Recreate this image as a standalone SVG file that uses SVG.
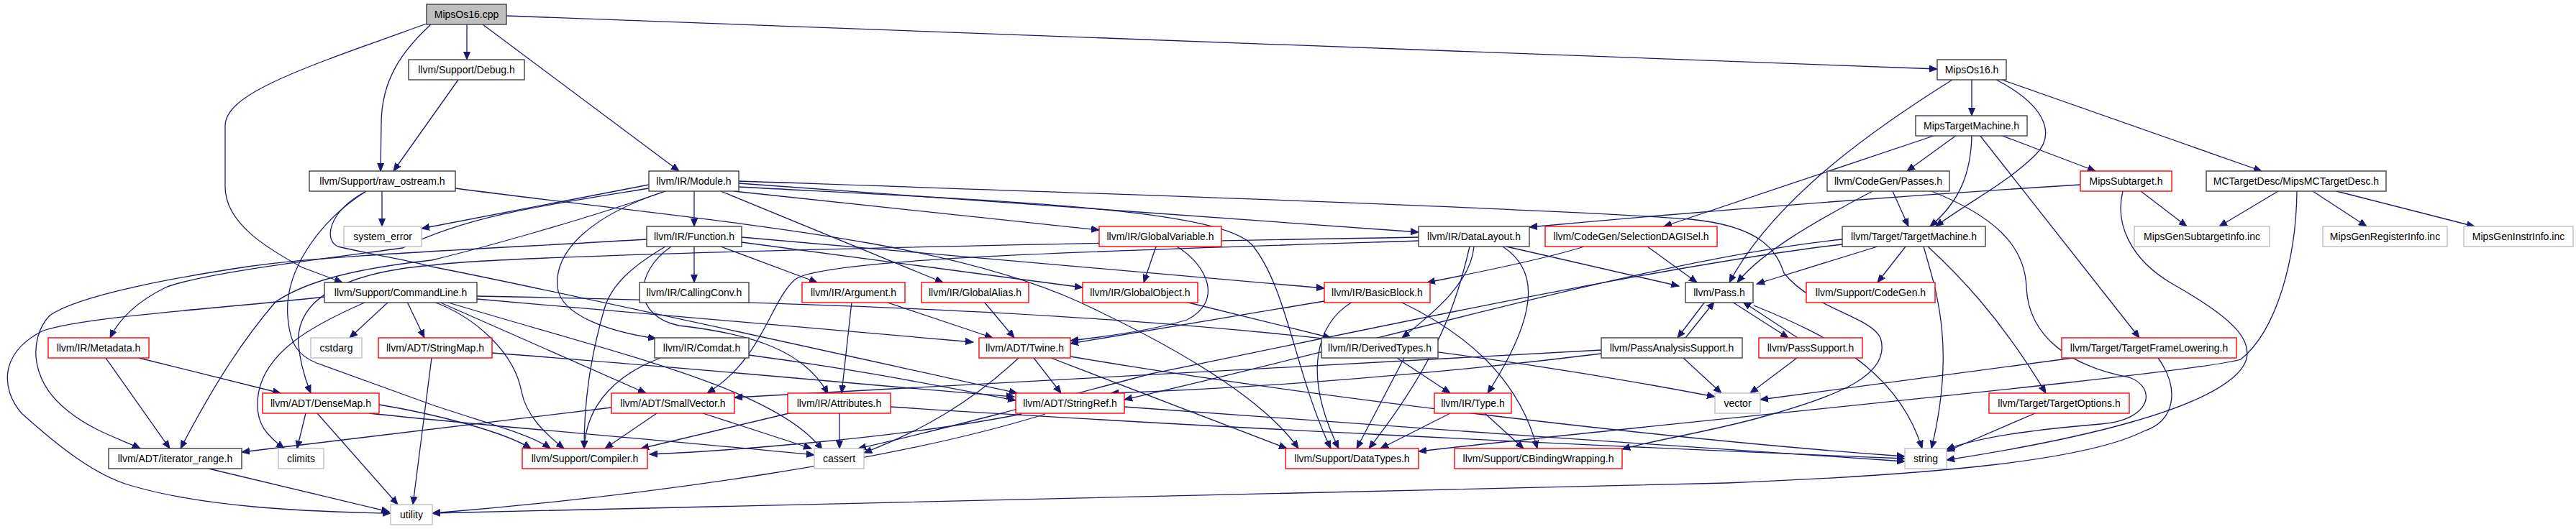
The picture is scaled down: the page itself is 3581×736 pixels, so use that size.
<svg xmlns="http://www.w3.org/2000/svg" width="3581" height="736" viewBox="0 0 3581 736">
<defs>
<style>
rect{fill:#fff;stroke:#404040;stroke-width:1.4}
.r rect{stroke:#ff0000}
.g rect{stroke:#bfbfbf}
.root rect{fill:#bfbfbf;stroke:#404040}
text{font-family:"Liberation Sans",Arial,sans-serif;font-size:14px;text-anchor:middle;fill:#000}
#edges path{fill:none;stroke:#191970;stroke-width:1.3;marker-end:url(#a)}
</style>
<marker id="a" markerUnits="userSpaceOnUse" markerWidth="12" markerHeight="10" viewBox="0 0 12 10" refX="11" refY="5" orient="auto"><path d="M0,0.5 L11,5 L0,9.5 z" fill="#191970" stroke="#191970"/></marker>
</defs>
<rect x="0" y="0" width="3581" height="736" style="fill:#fff;stroke:none"/>
<g id="edges">
<path d="M649,34 L649,83"/>
<path d="M671,34 L944,238"/>
<path d="M704,22 L2693,96"/>
<path d="M599,34 C560,70 530,110 530,173 L529,238"/>
<path d="M593,33 C420,95 313,130 313,175 L313,260 C313,310 370,345 420,372 L476,393"/>
<path d="M637,111 L547,238"/>
<path d="M2741,111 L2741,161"/>
<path d="M2714,111 C2620,170 2470,270 2404,393"/>
<path d="M2775,111 C2850,150 2855,190 2830,215 C2790,255 2730,285 2691,315"/>
<path d="M2783,111 L3144,238"/>
<path d="M2691,188 L2313,315"/>
<path d="M2720,188 L2651,238"/>
<path d="M2741,188 C2740,240 2725,280 2683,315"/>
<path d="M2752,188 L2974,470"/>
<path d="M2781,188 L2913,238"/>
<path d="M2603,266 C2520,310 2450,350 2415,393"/>
<path d="M2631,266 L2653,315"/>
<path d="M2685,266 C2770,300 2815,340 2817,400 C2820,470 2880,510 2960,525 C3000,540 2990,585 2920,590 C2850,596 2760,605 2706,625"/>
<path d="M2892,257 C2600,275 2300,300 2126,316"/>
<path d="M2976,266 L3040,315"/>
<path d="M2951,266 C2940,310 2960,360 3020,395 C3100,440 3150,480 3110,520 C3060,570 2900,610 2706,640"/>
<path d="M3167,266 L3085,315"/>
<path d="M3215,266 L3290,315"/>
<path d="M3248,266 L3440,315"/>
<path d="M3193,266 C3192,360 3165,460 3115,500 C3050,520 2300,590 1972,628"/>
<path d="M531,266 L531,315"/>
<path d="M509,266 C440,310 395,380 400,440 C403,480 415,495 440,505 L600,563 C680,590 740,605 765,624"/>
<path d="M509,266 C455,295 450,335 470,343 C520,355 570,362 600,371 C800,410 1200,500 1414,547"/>
<path d="M633,262 C1000,310 1300,330 1500,420 C1650,490 1760,560 1805,624"/>
<path d="M902,257 L586,318"/>
<path d="M965,266 L965,315"/>
<path d="M1020,266 L1528,320"/>
<path d="M1027,255 L1972,323"/>
<path d="M1027,252 C1500,268 2150,290 2350,305 C2450,315 2470,350 2480,380 C2520,430 2600,440 2614,470 C2630,520 2560,550 2450,580 C2380,600 2300,612 2255,625"/>
<path d="M1027,260 C1400,280 1690,290 1740,340 C1790,400 1800,520 1850,624"/>
<path d="M902,262 C760,285 650,300 560,345 C450,360 280,380 230,400 C190,420 165,445 153,470"/>
<path d="M925,266 C820,300 770,350 775,400 C780,440 850,462 912,471"/>
<path d="M1002,266 L1311,393"/>
<path d="M925,266 C800,310 650,350 600,362 C480,375 420,395 383,420 C340,470 300,530 251,624"/>
<path d="M899,333 C700,345 450,355 344,371 C250,385 110,410 69,439 C40,470 40,530 96,573 C130,600 170,612 195,624"/>
<path d="M965,343 L965,393"/>
<path d="M1002,343 L1136,393"/>
<path d="M1031,337 L1505,400"/>
<path d="M1031,330 L1841,401"/>
<path d="M933,343 C880,380 880,440 944,453 C1050,465 1120,490 1151,548"/>
<path d="M925,343 C880,370 850,395 840,430 C820,500 812,560 812,624"/>
<path d="M451,413 C300,430 120,440 60,460 C0,490 0,540 30,575 C80,620 130,660 180,675 C280,705 420,712 543,714"/>
<path d="M540,420 L486,470"/>
<path d="M566,420 L590,470"/>
<path d="M509,420 C440,450 360,490 358,560 C357,590 370,605 395,624"/>
<path d="M600,419 C660,440 715,490 725,545 C732,580 760,605 784,624"/>
<path d="M610,420 L898,547"/>
<path d="M620,420 C850,490 1080,540 1143,626"/>
<path d="M663,416 L1353,476"/>
<path d="M663,412 C1300,425 1800,440 2384,552"/>
<path d="M147,498 L236,624"/>
<path d="M193,498 L390,547"/>
<path d="M600,498 L574,702"/>
<path d="M684,491 C1000,515 1250,540 1410,552"/>
<path d="M918,498 C860,520 815,560 812,624"/>
<path d="M1041,494 C1200,515 1320,540 1412,557"/>
<path d="M425,575 L413,624"/>
<path d="M441,575 L553,702"/>
<path d="M527,563 C600,575 700,600 738,624"/>
<path d="M513,575 C700,595 900,610 1132,633"/>
<path d="M850,567 L336,629"/>
<path d="M913,575 L841,624"/>
<path d="M977,575 L1128,624"/>
<path d="M1101,574 L891,624"/>
<path d="M1167,575 L1167,624"/>
<path d="M1238,566 C1600,590 2200,620 2648,638"/>
<path d="M1420,576 C1250,610 1000,628 903,632"/>
<path d="M1453,576 C1250,640 900,690 601,714"/>
<path d="M1563,566 C1900,590 2300,620 2648,642"/>
<path d="M1437,498 L1475,547"/>
<path d="M1416,498 C1350,560 1280,600 1201,630"/>
<path d="M1488,496 C1800,549 2300,610 2648,635"/>
<path d="M1461,498 L1789,624"/>
<path d="M1607,343 L1590,393"/>
<path d="M1636,343 C1680,370 1700,420 1650,445 C1600,460 1540,468 1488,474"/>
<path d="M1368,420 L1410,470"/>
<path d="M1231,420 L1380,470"/>
<path d="M1184,420 L1170,547"/>
<path d="M1648,420 L1850,470"/>
<path d="M1841,419 L1488,478"/>
<path d="M1880,420 C1830,450 1810,520 1861,624"/>
<path d="M1947,420 C2030,460 2110,520 2137,624"/>
<path d="M2094,343 L2334,398"/>
<path d="M2049,343 C2045,390 2000,430 1949,470"/>
<path d="M2089,343 C2130,370 2150,420 2068,547"/>
<path d="M2043,343 C2025,420 2000,500 1903,624"/>
<path d="M1972,330 C1400,340 700,355 600,369 C470,380 410,420 415,480 C418,510 425,530 432,547"/>
<path d="M1972,335 C1500,350 1140,360 1105,389 C1070,420 1060,500 983,547"/>
<path d="M1942,498 L2016,547"/>
<path d="M1952,498 L1886,624"/>
<path d="M2016,575 L1919,624"/>
<path d="M2064,575 L2118,624"/>
<path d="M2370,420 L2332,470"/>
<path d="M2343,470 L2383,420"/>
<path d="M2408,420 L2486,470"/>
<path d="M2499,470 L2423,420"/>
<path d="M2438,425 C2550,470 2640,520 2672,624"/>
<path d="M2340,498 L2393,547"/>
<path d="M2226,487 C1800,510 1400,530 1021,553"/>
<path d="M2226,492 C2000,520 1750,540 1544,547"/>
<path d="M2498,498 L2433,547"/>
<path d="M2610,343 L2442,395"/>
<path d="M2649,343 L2610,393"/>
<path d="M2674,343 C2690,400 2720,480 2685,624"/>
<path d="M2680,343 C2720,380 2780,440 2844,547"/>
<path d="M2561,333 C2300,360 1900,480 1563,556"/>
<path d="M2561,340 C2300,370 1800,480 1600,520 C1450,560 1300,600 1193,624"/>
<path d="M2829,575 L2706,628"/>
<path d="M2202,343 C2150,360 2050,380 1984,393"/>
<path d="M2290,343 L2359,393"/>
<path d="M2882,498 L2447,556"/>
<path d="M3000,498 C3030,540 3025,585 2980,600 C2900,640 2700,660 2400,672 L601,714"/>
<path d="M290,652 L541,712"/>
</g>
<g id="n_cpp" class="root"><rect x="593" y="6" width="111" height="28"/><text x="648.5" y="25">MipsOs16.cpp</text></g>
<g id="n_debug"><rect x="568" y="83" width="161" height="28"/><text x="648.5" y="102">llvm/Support/Debug.h</text></g>
<g id="n_mipsos16h"><rect x="2693" y="83" width="96" height="28"/><text x="2741" y="102">MipsOs16.h</text></g>
<g id="n_mipstm"><rect x="2663" y="161" width="155" height="28"/><text x="2740.5" y="180">MipsTargetMachine.h</text></g>
<g id="n_rawostream"><rect x="430" y="238" width="203" height="28"/><text x="531.5" y="257">llvm/Support/raw_ostream.h</text></g>
<g id="n_module"><rect x="902" y="238" width="125" height="28"/><text x="964.5" y="257">llvm/IR/Module.h</text></g>
<g id="n_passes"><rect x="2540" y="238" width="170" height="28"/><text x="2625" y="257">llvm/CodeGen/Passes.h</text></g>
<g id="n_mipssubtarget" class="r"><rect x="2892" y="238" width="127" height="28"/><text x="2955.5" y="257">MipsSubtarget.h</text></g>
<g id="n_mctd"><rect x="3067" y="238" width="250" height="28"/><text x="3192" y="257">MCTargetDesc/MipsMCTargetDesc.h</text></g>
<g id="n_system_error" class="g"><rect x="478" y="315" width="108" height="28"/><text x="532" y="334">system_error</text></g>
<g id="n_function"><rect x="899" y="315" width="132" height="28"/><text x="965" y="334">llvm/IR/Function.h</text></g>
<g id="n_globalvariable" class="r"><rect x="1528" y="315" width="170" height="28"/><text x="1613" y="334">llvm/IR/GlobalVariable.h</text></g>
<g id="n_datalayout"><rect x="1972" y="315" width="154" height="28"/><text x="2049" y="334">llvm/IR/DataLayout.h</text></g>
<g id="n_seldag" class="r"><rect x="2148" y="315" width="239" height="28"/><text x="2267.5" y="334">llvm/CodeGen/SelectionDAGISel.h</text></g>
<g id="n_targetmachine"><rect x="2561" y="315" width="199" height="28"/><text x="2660.5" y="334">llvm/Target/TargetMachine.h</text></g>
<g id="n_mgsubinfo" class="g"><rect x="2967" y="315" width="188" height="28"/><text x="3061" y="334">MipsGenSubtargetInfo.inc</text></g>
<g id="n_mgreginfo" class="g"><rect x="3229" y="315" width="173" height="28"/><text x="3315.5" y="334">MipsGenRegisterInfo.inc</text></g>
<g id="n_mginstrinfo" class="g"><rect x="3425" y="315" width="152" height="28"/><text x="3501" y="334">MipsGenInstrInfo.inc</text></g>
<g id="n_commandline"><rect x="451" y="393" width="212" height="28"/><text x="557" y="412">llvm/Support/CommandLine.h</text></g>
<g id="n_callingconv"><rect x="889" y="393" width="152" height="28"/><text x="965" y="412">llvm/IR/CallingConv.h</text></g>
<g id="n_argument" class="r"><rect x="1115" y="393" width="143" height="28"/><text x="1186.5" y="412">llvm/IR/Argument.h</text></g>
<g id="n_globalalias" class="r"><rect x="1281" y="393" width="149" height="28"/><text x="1355.5" y="412">llvm/IR/GlobalAlias.h</text></g>
<g id="n_globalobject" class="r"><rect x="1505" y="393" width="160" height="28"/><text x="1585" y="412">llvm/IR/GlobalObject.h</text></g>
<g id="n_basicblock" class="r"><rect x="1841" y="393" width="147" height="28"/><text x="1914.5" y="412">llvm/IR/BasicBlock.h</text></g>
<g id="n_pass"><rect x="2343" y="393" width="94" height="28"/><text x="2390" y="412">llvm/Pass.h</text></g>
<g id="n_supcodegen" class="r"><rect x="2511" y="393" width="179" height="28"/><text x="2600.5" y="412">llvm/Support/CodeGen.h</text></g>
<g id="n_metadata" class="r"><rect x="67" y="470" width="140" height="28"/><text x="137" y="489">llvm/IR/Metadata.h</text></g>
<g id="n_cstdarg" class="g"><rect x="432" y="470" width="71" height="28"/><text x="467.5" y="489">cstdarg</text></g>
<g id="n_stringmap" class="r"><rect x="526" y="470" width="158" height="28"/><text x="605" y="489">llvm/ADT/StringMap.h</text></g>
<g id="n_comdat"><rect x="910" y="470" width="131" height="28"/><text x="975.5" y="489">llvm/IR/Comdat.h</text></g>
<g id="n_twine" class="r"><rect x="1361" y="470" width="127" height="28"/><text x="1424.5" y="489">llvm/ADT/Twine.h</text></g>
<g id="n_derivedtypes"><rect x="1837" y="470" width="162" height="28"/><text x="1918" y="489">llvm/IR/DerivedTypes.h</text></g>
<g id="n_passanalysis"><rect x="2226" y="470" width="196" height="28"/><text x="2324" y="489">llvm/PassAnalysisSupport.h</text></g>
<g id="n_passsupport" class="r"><rect x="2445" y="470" width="144" height="28"/><text x="2517" y="489">llvm/PassSupport.h</text></g>
<g id="n_tfl" class="r"><rect x="2866" y="470" width="243" height="28"/><text x="2987.5" y="489">llvm/Target/TargetFrameLowering.h</text></g>
<g id="n_densemap" class="r"><rect x="365" y="547" width="162" height="28"/><text x="446" y="566">llvm/ADT/DenseMap.h</text></g>
<g id="n_smallvector" class="r"><rect x="850" y="547" width="171" height="28"/><text x="935.5" y="566">llvm/ADT/SmallVector.h</text></g>
<g id="n_attributes" class="r"><rect x="1095" y="547" width="143" height="28"/><text x="1166.5" y="566">llvm/IR/Attributes.h</text></g>
<g id="n_stringref" class="r"><rect x="1412" y="547" width="151" height="28"/><text x="1487.5" y="566">llvm/ADT/StringRef.h</text></g>
<g id="n_type" class="r"><rect x="1994" y="547" width="107" height="28"/><text x="2047.5" y="566">llvm/IR/Type.h</text></g>
<g id="n_vector" class="g"><rect x="2384" y="547" width="63" height="28"/><text x="2415.5" y="566">vector</text></g>
<g id="n_targetoptions" class="r"><rect x="2765" y="547" width="195" height="28"/><text x="2862.5" y="566">llvm/Target/TargetOptions.h</text></g>
<g id="n_iterator_range"><rect x="151" y="624" width="185" height="28"/><text x="243.5" y="643">llvm/ADT/iterator_range.h</text></g>
<g id="n_climits" class="g"><rect x="387" y="624" width="63" height="28"/><text x="418.5" y="643">climits</text></g>
<g id="n_compiler" class="r"><rect x="726" y="624" width="174" height="28"/><text x="813" y="643">llvm/Support/Compiler.h</text></g>
<g id="n_cassert" class="g"><rect x="1132" y="624" width="69" height="28"/><text x="1166.5" y="643">cassert</text></g>
<g id="n_datatypes" class="r"><rect x="1787" y="624" width="185" height="28"/><text x="1879.5" y="643">llvm/Support/DataTypes.h</text></g>
<g id="n_cbinding" class="r"><rect x="2022" y="624" width="233" height="28"/><text x="2138.5" y="643">llvm/Support/CBindingWrapping.h</text></g>
<g id="n_string" class="g"><rect x="2648" y="624" width="58" height="28"/><text x="2677" y="643">string</text></g>
<g id="n_utility" class="g"><rect x="543" y="702" width="58" height="28"/><text x="572" y="721">utility</text></g>
</svg>
